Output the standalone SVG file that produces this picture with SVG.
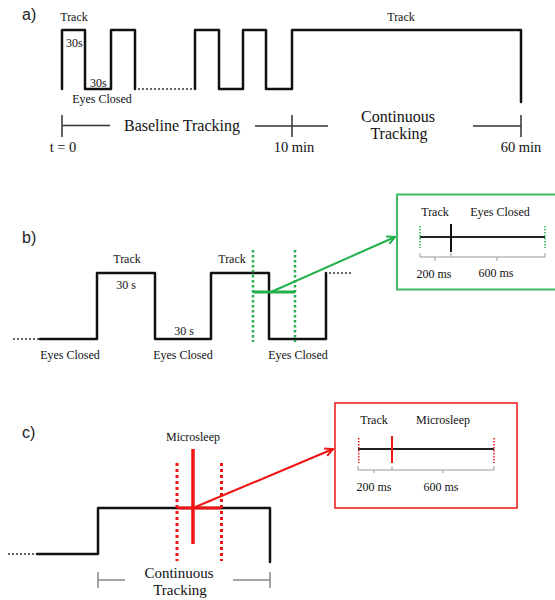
<svg xmlns="http://www.w3.org/2000/svg" width="555" height="600" viewBox="0 0 555 600">
<defs>
<marker id="ahG" markerWidth="10" markerHeight="10" refX="9" refY="5" orient="auto" markerUnits="userSpaceOnUse"><path d="M1,1 L9,5 L1,9" fill="none" stroke="#22b04b" stroke-width="2"/></marker>
<marker id="ahR" markerWidth="10" markerHeight="10" refX="9" refY="5" orient="auto" markerUnits="userSpaceOnUse"><path d="M1,1 L9,5 L1,9" fill="none" stroke="#f01414" stroke-width="2"/></marker>
<style>
text{font-family:"Liberation Serif","Times New Roman",serif;fill:#111}
.lbl{font-size:16px;font-family:"Liberation Sans",Arial,sans-serif;fill:#222}
.s{font-size:12px;text-anchor:middle}
.sl{font-size:12px}
.m{font-size:16px;text-anchor:middle}
.t{font-size:14.5px;text-anchor:middle}
.wave{fill:none;stroke:#111;stroke-width:2.5;stroke-linejoin:round;stroke-linecap:round}
.dots{fill:none;stroke:#333;stroke-width:1.6;stroke-dasharray:2,2}
.axis{fill:none;stroke:#333;stroke-width:1.5}
.axisg{fill:none;stroke:#888;stroke-width:1.5}
.gdot{fill:none;stroke:#22b04b;stroke-width:2.5;stroke-dasharray:2.5,2.5}
.rdot{fill:none;stroke:#f01414;stroke-width:3;stroke-dasharray:3,3}
.gdots{fill:none;stroke:#22b04b;stroke-width:1.5;stroke-dasharray:1.5,1.5}
.rdots{fill:none;stroke:#f01414;stroke-width:1.5;stroke-dasharray:1.5,1.5}
.tl{fill:none;stroke:#222;stroke-width:2}
.br{fill:none;stroke:#999;stroke-width:1}
</style>
</defs>
<rect width="555" height="600" fill="#fff"/>

<g id="panel-a">
<text class="lbl" x="22" y="20">a)</text>
<path class="wave" d="M62,89 V30 H85 V89 H111 V30 H135 V89"/>
<path class="dots" d="M138,89 H193"/>
<path class="wave" d="M195,89 V30 H219 V89 H243 V30 H266 V89 H292 V30 H521 V102"/>
<text class="s" x="74" y="21">Track</text>
<text class="sl" x="66" y="47">30s</text>
<text class="sl" x="90" y="87">30s</text>
<text class="s" x="102" y="103">Eyes Closed</text>
<text class="s" x="401" y="21">Track</text>
<path class="axis" d="M62,115 V137 M62,125.5 H110 M255,126 H328 M292,115 V137 M473,126 H521 M521,115 V137"/>
<text class="m" x="182" y="131">Baseline Tracking</text>
<text class="m" x="398" y="122">Continuous</text>
<text class="m" x="399" y="139">Tracking</text>
<text class="t" x="63" y="152">t = 0</text>
<text class="t" x="294" y="152">10 min</text>
<text class="t" x="521" y="152">60 min</text>
</g>

<g id="panel-b">
<text class="lbl" x="22" y="243">b)</text>
<path class="dots" d="M13,339 H40"/>
<path class="wave" d="M40,339 H97 V273 H155 V339 H211 V273 H269 V339 H326 V273"/>
<path class="dots" d="M329,273 H351"/>
<text class="s" x="127" y="263">Track</text>
<text class="s" x="126" y="289">30 s</text>
<text class="s" x="184" y="335">30 s</text>
<text class="s" x="232" y="263">Track</text>
<text class="s" x="70" y="359">Eyes Closed</text>
<text class="s" x="183" y="359">Eyes Closed</text>
<text class="s" x="298" y="359">Eyes Closed</text>
<path class="gdot" d="M253,250 V342 M295,250 V342"/>
<path d="M253,292 H295" stroke="#22b04b" stroke-width="3" fill="none"/>
</g>

<g id="inset-b">
<rect x="397" y="194.5" width="170" height="95" fill="#fff" stroke="#3dba62" stroke-width="2"/>
<text class="s" x="435" y="216">Track</text>
<text class="s" x="500" y="216">Eyes Closed</text>
<path class="tl" d="M420,237 H545"/>
<path class="gdots" d="M420,226 V248 M545,226 V248"/>
<path d="M451,224 V252" stroke="#111" stroke-width="2" fill="none"/>
<path class="br" d="M420,253 V257 H451 V253 M435,257 V261 M451,257 H545 V253 M497,257 V261"/>
<text class="s" x="434" y="278">200 ms</text>
<text class="s" x="496" y="277">600 ms</text>
</g>

<g id="panel-c">
<text class="lbl" x="22" y="438">c)</text>
<path class="dots" d="M8,554 H37"/>
<path class="wave" d="M37,554 H98 V508 H270 V562"/>
<text class="s" x="193" y="441">Microsleep</text>
<path class="rdot" d="M177,463 V561 M221.5,463 V561"/>
<path d="M177,508 H221.5" stroke="#f01414" stroke-width="3" fill="none"/>
<path d="M193,449 V544" stroke="#f01414" stroke-width="3.5" fill="none"/>
<path class="axisg" d="M98,572 V588 M98,580 H125 M233,580 H270 M270,572 V588"/>
<text x="179" y="578" style="font-size:15px;text-anchor:middle">Continuous</text>
<text x="180" y="595" style="font-size:15px;text-anchor:middle">Tracking</text>
</g>

<g id="inset-c">
<rect x="335" y="403" width="182" height="105" fill="#fff" stroke="#f01414" stroke-width="1.5"/>
<text class="s" x="374" y="424">Track</text>
<text class="s" x="443" y="424">Microsleep</text>
<path class="tl" d="M358,449 H494"/>
<path class="rdots" d="M358.7,438 V463 M494,438 V463"/>
<path d="M392,436 V463" stroke="#f01414" stroke-width="2" fill="none"/>
<path class="br" d="M358,466 V470 H392 V466 M374,470 V473 M392,470 H494 V466 M443,470 V473"/>
<text class="s" x="374" y="491">200 ms</text>
<text class="s" x="441" y="491">600 ms</text>
</g>

<g id="connectors">
<path d="M271,292 L395,237" stroke="#22b04b" stroke-width="2" fill="none" marker-end="url(#ahG)"/>
<path d="M193,508 L333,449" stroke="#f01414" stroke-width="2" fill="none" marker-end="url(#ahR)"/>
</g>
</svg>
